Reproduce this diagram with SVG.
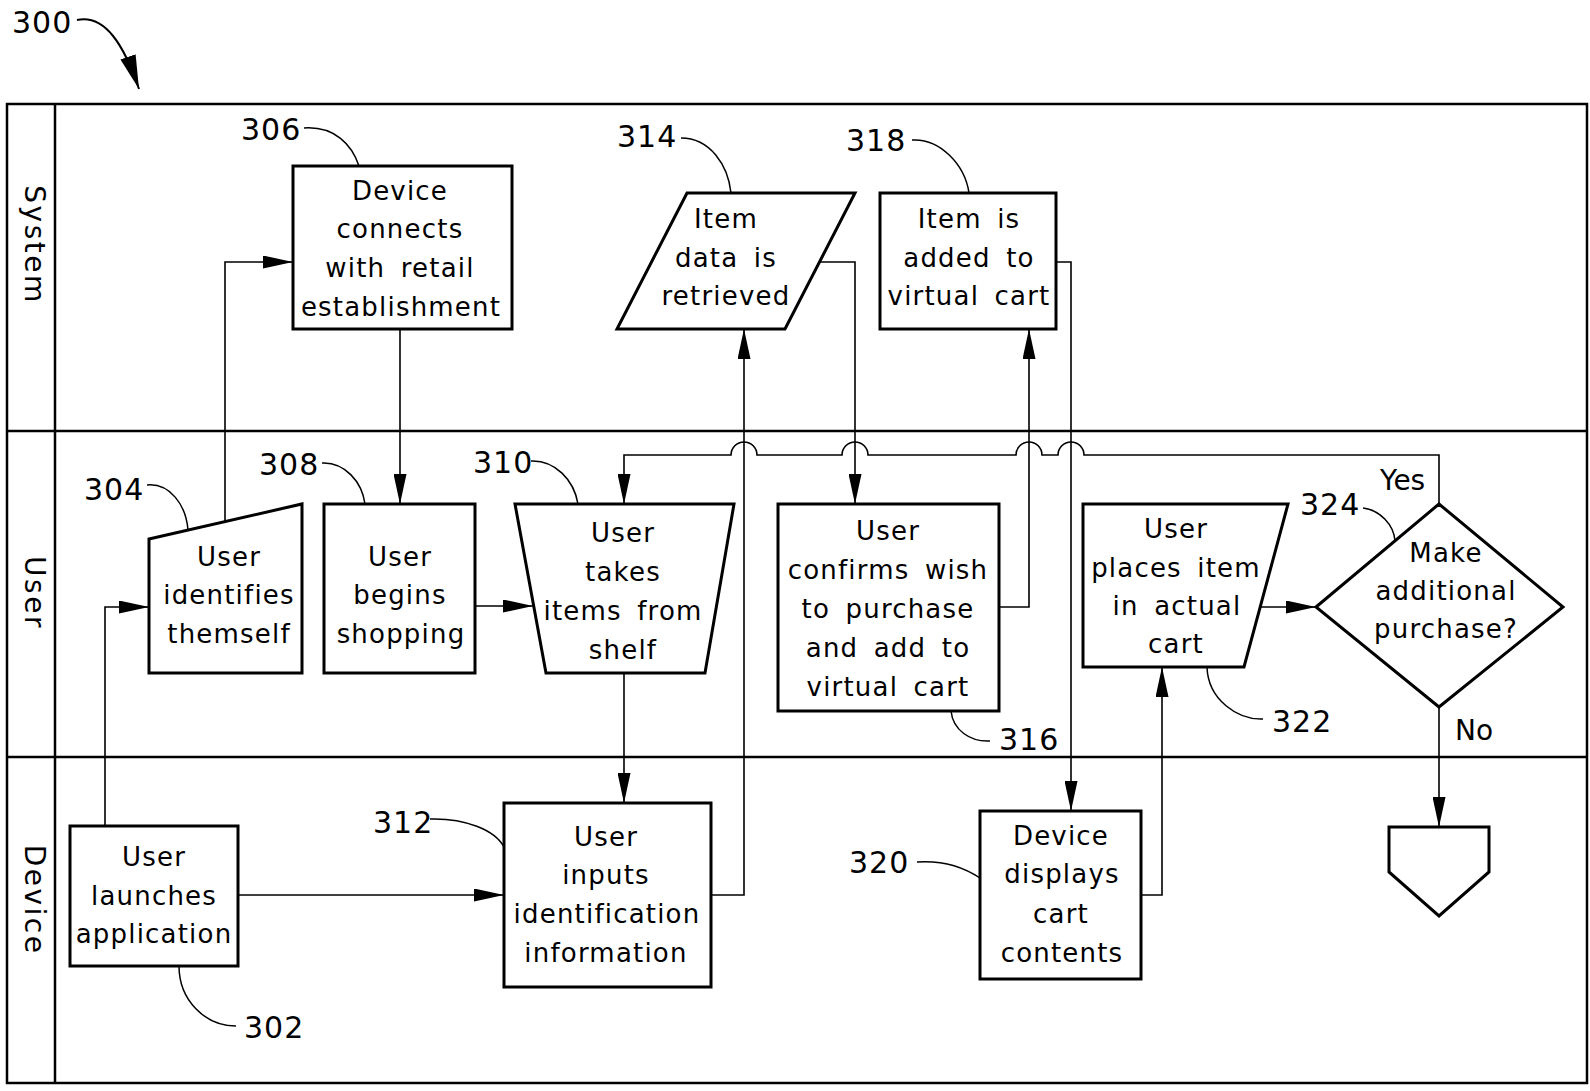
<svg xmlns="http://www.w3.org/2000/svg" width="1590" height="1091" viewBox="0 0 1590 1091">
<style>
.frame{fill:none;stroke:#000;stroke-width:2.5}
.box{fill:#fff;stroke:#000;stroke-width:3;stroke-linejoin:miter}
.ln{fill:none;stroke:#000;stroke-width:1.6}
.ld{fill:none;stroke:#000;stroke-width:1.5}
.t{font-family:"DejaVu Sans",sans-serif;font-size:26px;letter-spacing:1.2px;word-spacing:6px;text-anchor:middle;fill:#000}
.num{font-family:"DejaVu Sans",sans-serif;font-size:30px;letter-spacing:1px;fill:#000}
.yn{font-family:"DejaVu Sans",sans-serif;font-size:28px;fill:#000}
.lane{font-family:"DejaVu Sans",sans-serif;font-size:28px;letter-spacing:2.5px;text-anchor:middle;fill:#000}
</style>
<defs>
<marker id="ah" markerUnits="userSpaceOnUse" markerWidth="30" markerHeight="13" refX="30" refY="6.5" orient="auto">
<path d="M0,0 L30,6.5 L0,13 z" fill="#000"/>
</marker>
<marker id="ahBig" markerUnits="userSpaceOnUse" markerWidth="34" markerHeight="16" refX="34" refY="8" orient="auto">
<path d="M0,0 L34,8 L0,16 z" fill="#000"/>
</marker>
</defs>
<rect width="1590" height="1091" fill="#fff"/>

<g id="lanes">
<rect class="frame" x="7" y="104" width="1580" height="979"/>
<line class="frame" x1="55" y1="104" x2="55" y2="1083"/>
<line class="frame" x1="7" y1="431" x2="1587" y2="431"/>
<line class="frame" x1="7" y1="757" x2="1587" y2="757"/>
<text class="lane" transform="translate(25,245) rotate(90)">System</text>
<text class="lane" transform="translate(25,593) rotate(90)">User</text>
<text class="lane" transform="translate(25,900) rotate(90)">Device</text>
</g>

<g id="ref300">
<text class="num" x="12" y="33">300</text>
<path d="M77,20 C105,14 124,45 139,89" fill="none" stroke="#000" stroke-width="2" marker-end="url(#ahBig)"/>
</g>

<g id="connectors">
<path class="ln" d="M105,826 V607 H149" marker-end="url(#ah)"/>
<path class="ln" d="M225,522 V262 H293" marker-end="url(#ah)"/>
<path class="ln" d="M400,329 V504" marker-end="url(#ah)"/>
<path class="ln" d="M475,606 H533" marker-end="url(#ah)"/>
<path class="ln" d="M624,673 V803" marker-end="url(#ah)"/>
<path class="ln" d="M238,895 H504" marker-end="url(#ah)"/>
<path class="ln" d="M711,895 H744 V329" marker-end="url(#ah)"/>
<path class="ln" d="M820,262 H855 V504" marker-end="url(#ah)"/>
<path class="ln" d="M999,607 H1029 V329" marker-end="url(#ah)"/>
<path class="ln" d="M1056,262 H1071 V811" marker-end="url(#ah)"/>
<path class="ln" d="M1141,895 H1162 V667" marker-end="url(#ah)"/>
<path class="ln" d="M1259,607 H1316" marker-end="url(#ah)"/>
<path class="ln" d="M1439,504 V455 H1084 A13,13 0 0 0 1058,455 H1042 A13,13 0 0 0 1016,455 H868 A13,13 0 0 0 842,455 H757 A13,13 0 0 0 731,455 H624 V504" marker-end="url(#ah)"/>
<path class="ln" d="M1439,707 V827" marker-end="url(#ah)"/>
<text class="yn" x="1380" y="490">Yes</text>
<text class="yn" x="1455" y="740">No</text>
</g>

<g id="n302">
<rect class="box" x="70" y="826" width="168" height="140"/>
<text class="t" x="154" y="866">User</text>
<text class="t" x="154" y="905">launches</text>
<text class="t" x="154" y="943">application</text>
<path class="ld" d="M179,966 C179,1000 205,1026 236,1026"/>
<text class="num" x="244" y="1038">302</text>
</g>

<g id="n304">
<polygon class="box" points="149,539 302,504 302,673 149,673"/>
<text class="t" x="229" y="566">User</text>
<text class="t" x="229" y="604">identifies</text>
<text class="t" x="229" y="643">themself</text>
<path class="ld" d="M147,485 C170,483 186,505 188,530"/>
<text class="num" x="84" y="500">304</text>
</g>

<g id="n306">
<rect class="box" x="293" y="166" width="219" height="163"/>
<text class="t" x="400" y="200">Device</text>
<text class="t" x="400" y="238">connects</text>
<text class="t" x="400" y="277">with retail</text>
<text class="t" x="401" y="316">establishment</text>
<path class="ld" d="M304,128 C335,126 352,145 359,166"/>
<text class="num" x="241" y="140">306</text>
</g>

<g id="n308">
<rect class="box" x="324" y="504" width="151" height="169"/>
<text class="t" x="400" y="566">User</text>
<text class="t" x="400" y="604">begins</text>
<text class="t" x="401" y="643">shopping</text>
<path class="ld" d="M322,463 C345,462 362,482 365,504"/>
<text class="num" x="259" y="475">308</text>
</g>

<g id="n310">
<polygon class="box" points="515,504 734,504 705,673 546,673"/>
<text class="t" x="623" y="542">User</text>
<text class="t" x="623" y="581">takes</text>
<text class="t" x="623" y="620">items from</text>
<text class="t" x="623" y="659">shelf</text>
<path class="ld" d="M531,461 C555,460 574,480 578,504"/>
<text class="num" x="473" y="473">310</text>
</g>

<g id="n312">
<rect class="box" x="504" y="803" width="207" height="184"/>
<text class="t" x="606" y="846">User</text>
<text class="t" x="606" y="884">inputs</text>
<text class="t" x="607" y="923">identification</text>
<text class="t" x="606" y="962">information</text>
<path class="ld" d="M430,819 C465,818 495,830 504,847"/>
<text class="num" x="373" y="833">312</text>
</g>

<g id="n314">
<polygon class="box" points="687,193 855,193 785,329 617,329"/>
<text class="t" x="726" y="228">Item</text>
<text class="t" x="726" y="267">data is</text>
<text class="t" x="726" y="305">retrieved</text>
<path class="ld" d="M681,138 C710,138 728,165 731,193"/>
<text class="num" x="617" y="147">314</text>
</g>

<g id="n316">
<rect class="box" x="778" y="504" width="221" height="207"/>
<text class="t" x="888" y="540">User</text>
<text class="t" x="888" y="579">confirms wish</text>
<text class="t" x="888" y="618">to purchase</text>
<text class="t" x="888" y="657">and add to</text>
<text class="t" x="888" y="696">virtual cart</text>
<path class="ld" d="M951,711 C953,730 970,742 990,741"/>
<text class="num" x="999" y="750">316</text>
</g>

<g id="n318">
<rect class="box" x="880" y="193" width="176" height="136"/>
<text class="t" x="969" y="228">Item is</text>
<text class="t" x="969" y="267">added to</text>
<text class="t" x="969" y="305">virtual cart</text>
<path class="ld" d="M912,140 C940,138 965,165 969,193"/>
<text class="num" x="846" y="151">318</text>
</g>

<g id="n320">
<rect class="box" x="980" y="811" width="161" height="168"/>
<text class="t" x="1061" y="845">Device</text>
<text class="t" x="1062" y="883">displays</text>
<text class="t" x="1061" y="923">cart</text>
<text class="t" x="1062" y="962">contents</text>
<path class="ld" d="M917,862 C945,860 965,868 980,878"/>
<text class="num" x="849" y="873">320</text>
</g>

<g id="n322">
<polygon class="box" points="1083,504 1288,504 1244,667 1083,667"/>
<text class="t" x="1176" y="538">User</text>
<text class="t" x="1176" y="577">places item</text>
<text class="t" x="1177" y="615">in actual</text>
<text class="t" x="1176" y="653">cart</text>
<path class="ld" d="M1207,667 C1208,700 1238,720 1263,719"/>
<text class="num" x="1272" y="732">322</text>
</g>

<g id="n324">
<polygon class="box" points="1316,607 1439,504 1563,607 1439,707"/>
<text class="t" x="1446" y="562">Make</text>
<text class="t" x="1446" y="600">additional</text>
<text class="t" x="1446" y="638">purchase?</text>
<path class="ld" d="M1363,508 C1380,510 1394,525 1395,541"/>
<text class="num" x="1300" y="515">324</text>
</g>

<g id="offpage">
<polygon class="box" points="1389,827 1489,827 1489,872 1439,916 1389,872"/>
</g>
</svg>
